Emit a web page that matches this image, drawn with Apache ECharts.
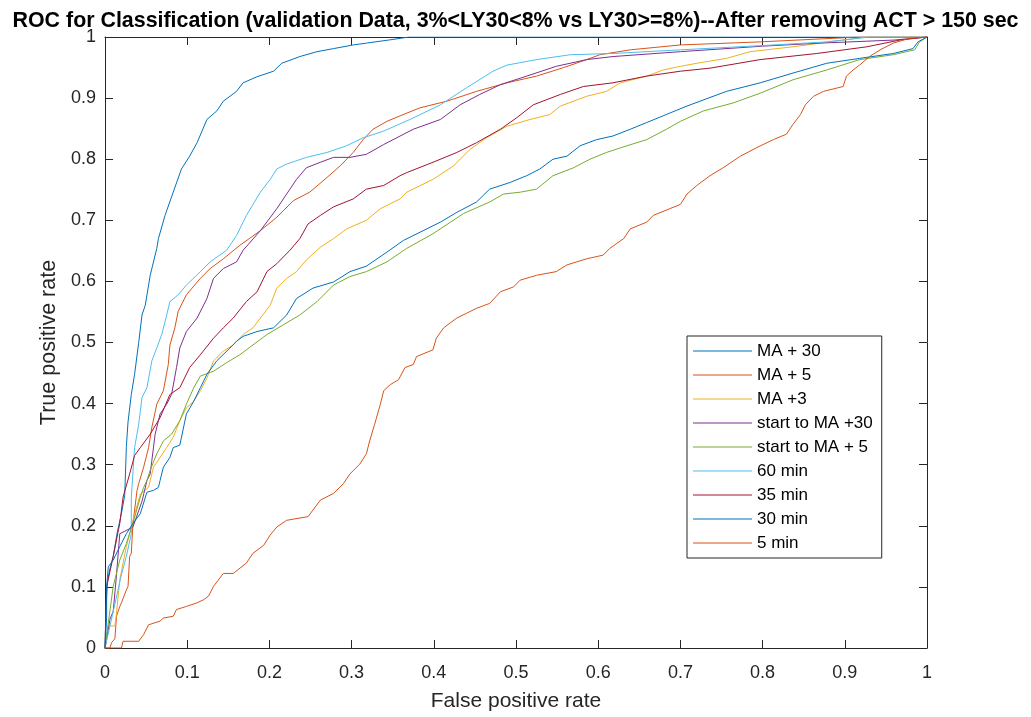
<!DOCTYPE html>
<html>
<head>
<meta charset="utf-8">
<script src="https://cdn.jsdelivr.net/npm/echarts@6/dist/echarts.min.js"></script>
<style>
html,body{margin:0;padding:0;background:#fff;}
#chart{width:1031px;height:717px;}
</style>
</head>
<body>
<div id="chart"></div>
<script>
// Legend names (in order) and MATLAB default colours
const seriesNames = ['MA + 30','MA + 5','MA +3','start to MA +30','start to MA + 5','60 min','35 min','30 min','5 min'];
const seriesColors = ['#0072BD','#D95319','#EDB120','#7E2F8E','#77AC30','#4DBEEE','#A2142F','#0072BD','#D95319'];
const xTicks = [0,0.1,0.2,0.3,0.4,0.5,0.6,0.7,0.8,0.9,1];

// ROC curves: [false positive rate, true positive rate]
const ma30 = [[0,0],[0.001,0.06],[0.003,0.11],[0.006,0.13],[0.010,0.15],[0.015,0.19],[0.020,0.22],[0.024,0.25],[0.026,0.33],[0.028,0.37],[0.032,0.415],[0.036,0.448],[0.041,0.50],[0.045,0.545],[0.049,0.561],[0.055,0.61],[0.063,0.654],[0.065,0.67],[0.073,0.708],[0.083,0.746],[0.093,0.784],[0.103,0.805],[0.112,0.827],[0.124,0.865],[0.136,0.879],[0.144,0.895],[0.160,0.911],[0.168,0.925],[0.185,0.935],[0.205,0.944],[0.215,0.957],[0.237,0.968],[0.258,0.976],[0.278,0.981],[0.302,0.987],[0.318,0.990],[0.345,0.995],[0.37,1],[1,1]];
const ma5 = [[0,0],[0.006,0],[0.008,0.009],[0.012,0.015],[0.014,0.052],[0.018,0.068],[0.020,0.074],[0.026,0.095],[0.028,0.101],[0.030,0.15],[0.032,0.155],[0.034,0.204],[0.039,0.258],[0.041,0.269],[0.047,0.296],[0.053,0.328],[0.057,0.361],[0.063,0.399],[0.071,0.421],[0.077,0.464],[0.079,0.496],[0.085,0.524],[0.089,0.551],[0.099,0.578],[0.116,0.605],[0.128,0.621],[0.144,0.637],[0.164,0.659],[0.189,0.683],[0.209,0.705],[0.229,0.732],[0.249,0.746],[0.270,0.770],[0.286,0.789],[0.302,0.811],[0.314,0.832],[0.326,0.849],[0.343,0.862],[0.359,0.871],[0.383,0.884],[0.416,0.895],[0.452,0.911],[0.489,0.925],[0.525,0.936],[0.558,0.95],[0.586,0.963],[0.602,0.971],[0.639,0.979],[0.700,0.987],[0.797,0.992],[0.918,1.0],[1,1]];
const ma3 = [[0,0],[0.004,0.036],[0.012,0.036],[0.014,0.057],[0.018,0.112],[0.026,0.166],[0.034,0.209],[0.043,0.252],[0.053,0.263],[0.059,0.296],[0.067,0.312],[0.075,0.328],[0.083,0.345],[0.091,0.372],[0.099,0.393],[0.108,0.404],[0.116,0.421],[0.124,0.442],[0.132,0.47],[0.144,0.486],[0.156,0.496],[0.168,0.513],[0.180,0.524],[0.189,0.540],[0.201,0.561],[0.209,0.589],[0.221,0.605],[0.233,0.616],[0.245,0.635],[0.262,0.656],[0.278,0.670],[0.294,0.686],[0.318,0.700],[0.335,0.719],[0.359,0.735],[0.367,0.746],[0.399,0.767],[0.424,0.789],[0.444,0.816],[0.464,0.835],[0.489,0.854],[0.517,0.865],[0.541,0.873],[0.554,0.887],[0.586,0.903],[0.610,0.911],[0.627,0.925],[0.659,0.936],[0.679,0.946],[0.700,0.952],[0.720,0.957],[0.756,0.965],[0.785,0.976],[0.837,0.984],[0.898,0.995],[0.927,1],[1,1]];
const sma30 = [[0,0],[0.004,0.03],[0.006,0.047],[0.010,0.06],[0.014,0.12],[0.018,0.187],[0.034,0.198],[0.045,0.24],[0.051,0.274],[0.055,0.285],[0.057,0.307],[0.061,0.350],[0.067,0.383],[0.075,0.399],[0.081,0.415],[0.087,0.459],[0.091,0.491],[0.099,0.518],[0.112,0.540],[0.124,0.572],[0.132,0.605],[0.144,0.621],[0.160,0.632],[0.168,0.651],[0.189,0.683],[0.209,0.719],[0.225,0.751],[0.233,0.767],[0.245,0.786],[0.262,0.795],[0.278,0.803],[0.298,0.803],[0.318,0.808],[0.339,0.824],[0.375,0.849],[0.408,0.865],[0.432,0.889],[0.456,0.906],[0.481,0.922],[0.513,0.936],[0.549,0.952],[0.586,0.963],[0.618,0.968],[0.700,0.976],[0.80,0.985],[0.87,0.99],[0.96,0.995],[1,1]];
const sma5 = [[0,0],[0.004,0.041],[0.010,0.101],[0.018,0.144],[0.026,0.171],[0.034,0.204],[0.043,0.247],[0.047,0.263],[0.051,0.274],[0.055,0.291],[0.063,0.318],[0.067,0.328],[0.071,0.339],[0.081,0.350],[0.091,0.372],[0.099,0.399],[0.108,0.426],[0.116,0.445],[0.132,0.453],[0.148,0.467],[0.164,0.480],[0.180,0.496],[0.197,0.513],[0.217,0.529],[0.237,0.545],[0.258,0.567],[0.278,0.594],[0.298,0.608],[0.318,0.616],[0.343,0.632],[0.367,0.654],[0.399,0.678],[0.436,0.711],[0.468,0.730],[0.485,0.743],[0.505,0.746],[0.525,0.751],[0.545,0.773],[0.570,0.786],[0.590,0.8],[0.610,0.811],[0.635,0.822],[0.659,0.832],[0.683,0.849],[0.700,0.862],[0.728,0.879],[0.764,0.892],[0.797,0.908],[0.837,0.930],[0.878,0.946],[0.918,0.963],[0.959,0.971],[0.985,0.979],[0.991,0.992],[1,1]];
const m60 = [[0,0],[0.005,0.03],[0.01,0.06],[0.02,0.12],[0.026,0.15],[0.032,0.187],[0.032,0.247],[0.036,0.328],[0.041,0.366],[0.045,0.41],[0.051,0.426],[0.057,0.47],[0.063,0.491],[0.069,0.513],[0.073,0.534],[0.079,0.567],[0.089,0.578],[0.099,0.594],[0.116,0.616],[0.128,0.632],[0.148,0.651],[0.160,0.675],[0.172,0.708],[0.189,0.746],[0.201,0.767],[0.209,0.784],[0.221,0.792],[0.245,0.803],[0.270,0.811],[0.294,0.822],[0.314,0.835],[0.339,0.846],[0.371,0.865],[0.408,0.889],[0.440,0.917],[0.472,0.944],[0.489,0.954],[0.525,0.963],[0.566,0.971],[0.618,0.973],[0.700,0.979],[0.80,0.986],[0.878,0.992],[0.93,1],[1,1]];
const m35 = [[0,0],[0.002,0.1],[0.010,0.150],[0.018,0.204],[0.022,0.247],[0.030,0.285],[0.036,0.315],[0.043,0.328],[0.055,0.350],[0.067,0.377],[0.079,0.415],[0.091,0.426],[0.103,0.459],[0.116,0.480],[0.132,0.507],[0.144,0.524],[0.156,0.540],[0.172,0.567],[0.185,0.583],[0.197,0.616],[0.209,0.629],[0.225,0.651],[0.237,0.670],[0.247,0.694],[0.262,0.708],[0.278,0.722],[0.302,0.735],[0.318,0.751],[0.339,0.757],[0.359,0.773],[0.367,0.778],[0.399,0.795],[0.428,0.811],[0.452,0.827],[0.481,0.849],[0.501,0.868],[0.521,0.889],[0.554,0.906],[0.582,0.919],[0.618,0.925],[0.659,0.936],[0.700,0.944],[0.736,0.949],[0.797,0.963],[0.866,0.973],[0.927,0.984],[0.967,0.995],[1,1]];
const m30 = [[0,0],[0.002,0.05],[0.002,0.1],[0.004,0.133],[0.010,0.144],[0.018,0.166],[0.026,0.187],[0.034,0.204],[0.043,0.220],[0.051,0.255],[0.059,0.258],[0.065,0.263],[0.067,0.274],[0.071,0.296],[0.079,0.312],[0.083,0.328],[0.091,0.332],[0.099,0.383],[0.108,0.404],[0.116,0.426],[0.124,0.448],[0.136,0.470],[0.152,0.491],[0.160,0.502],[0.168,0.510],[0.185,0.518],[0.205,0.524],[0.221,0.545],[0.233,0.572],[0.253,0.589],[0.278,0.599],[0.298,0.616],[0.318,0.625],[0.343,0.648],[0.363,0.667],[0.387,0.683],[0.408,0.697],[0.428,0.713],[0.452,0.730],[0.468,0.751],[0.493,0.762],[0.513,0.773],[0.529,0.784],[0.545,0.8],[0.562,0.805],[0.578,0.822],[0.598,0.832],[0.618,0.838],[0.639,0.849],[0.659,0.860],[0.679,0.871],[0.708,0.887],[0.756,0.911],[0.797,0.925],[0.837,0.941],[0.878,0.957],[0.918,0.965],[0.959,0.973],[0.983,0.981],[0.989,0.992],[1,1]];
const m5 = [[0,0],[0.020,0],[0.022,0.011],[0.041,0.011],[0.047,0.022],[0.053,0.038],[0.067,0.044],[0.071,0.049],[0.083,0.052],[0.087,0.063],[0.099,0.068],[0.112,0.074],[0.120,0.079],[0.126,0.085],[0.132,0.101],[0.144,0.122],[0.156,0.122],[0.172,0.139],[0.180,0.155],[0.193,0.168],[0.201,0.185],[0.209,0.198],[0.221,0.209],[0.247,0.215],[0.262,0.242],[0.278,0.253],[0.290,0.269],[0.298,0.285],[0.310,0.301],[0.318,0.318],[0.322,0.339],[0.328,0.366],[0.335,0.399],[0.339,0.421],[0.347,0.431],[0.357,0.439],[0.365,0.459],[0.375,0.464],[0.379,0.477],[0.399,0.488],[0.403,0.507],[0.412,0.524],[0.428,0.540],[0.440,0.548],[0.452,0.556],[0.468,0.564],[0.481,0.583],[0.497,0.591],[0.505,0.602],[0.525,0.610],[0.549,0.616],[0.562,0.627],[0.586,0.637],[0.606,0.643],[0.614,0.654],[0.631,0.670],[0.639,0.686],[0.659,0.697],[0.667,0.708],[0.687,0.719],[0.700,0.726],[0.708,0.743],[0.720,0.757],[0.736,0.773],[0.752,0.786],[0.773,0.805],[0.793,0.819],[0.813,0.832],[0.829,0.841],[0.837,0.857],[0.846,0.873],[0.852,0.889],[0.862,0.903],[0.874,0.911],[0.898,0.919],[0.902,0.936],[0.910,0.946],[0.918,0.954],[0.930,0.968],[0.943,0.979],[0.959,0.990],[0.979,0.998],[1,1]];

const curves = [ma30, ma5, ma3, sma30, sma5, m60, m35, m30, m5];

const FONT = '"Liberation Sans", Arial, Helvetica, sans-serif';
const AX = '#262626';

const chart = echarts.init(document.getElementById('chart'), null, {renderer: 'canvas'});

function axisCommon(extra) {
  return Object.assign({
    type: 'value', min: 0, max: 1, interval: 0.1,
    axisLine: {show: true, onZero: false, lineStyle: {color: AX, width: 1}},
    axisTick: {show: true, inside: true, length: 8, lineStyle: {color: AX, width: 1}},
    splitLine: {show: false},
    axisLabel: {show: false}
  }, extra);
}

const option = {
  animation: false,
  backgroundColor: '#fff',
  title: {
    text: 'ROC for Classification (validation Data, 3%<LY30<8% vs LY30>=8%)--After removing ACT > 150 sec',
    left: 'center', top: 6,
    textStyle: {fontFamily: FONT, fontSize: 21.4, fontWeight: 'bold', color: '#000'}
  },
  grid: {left: 105, right: 104, top: 37, bottom: 65, containLabel: false},
  xAxis: [
    axisCommon({
      position: 'bottom',
      name: 'False positive rate', nameLocation: 'middle', nameGap: 43,
      nameTextStyle: {fontFamily: FONT, fontSize: 21, color: AX},
      axisLabel: {show: true, margin: 16, fontFamily: FONT, fontSize: 18, color: AX,
        formatter: v => String(xTicks[Math.round(v * 10)])}
    }),
    axisCommon({position: 'top'})
  ],
  yAxis: [
    axisCommon({
      position: 'left',
      name: 'True positive rate', nameLocation: 'middle', nameGap: 37,
      nameTextStyle: {fontFamily: FONT, fontSize: 21.5, color: AX},
      axisLabel: {show: true, margin: 9, fontFamily: FONT, fontSize: 18, color: AX,
        formatter: v => String(xTicks[Math.round(v * 10)])}
    }),
    axisCommon({position: 'right'})
  ],
  legend: {
    orient: 'vertical', left: 687, top: 336,
    icon: 'rect', itemWidth: 59, itemHeight: 1, itemGap: 0, itemTextGap: 5,
    padding: [3, 9, 3, 6],
    backgroundColor: '#fff', borderColor: AX, borderWidth: 1,
    textStyle: {fontFamily: FONT, fontSize: 17, color: '#000', lineHeight: 24},
    data: seriesNames
  },
  series: curves.map((d, i) => ({
    name: seriesNames[i], type: 'line', data: d,
    xAxisIndex: 0, yAxisIndex: 0,
    showSymbol: false, symbol: 'none',
    lineStyle: {color: seriesColors[i], width: 1},
    itemStyle: {color: seriesColors[i]},
    emphasis: {disabled: true}
  }))
};
chart.setOption(option);
</script>
</body>
</html>
